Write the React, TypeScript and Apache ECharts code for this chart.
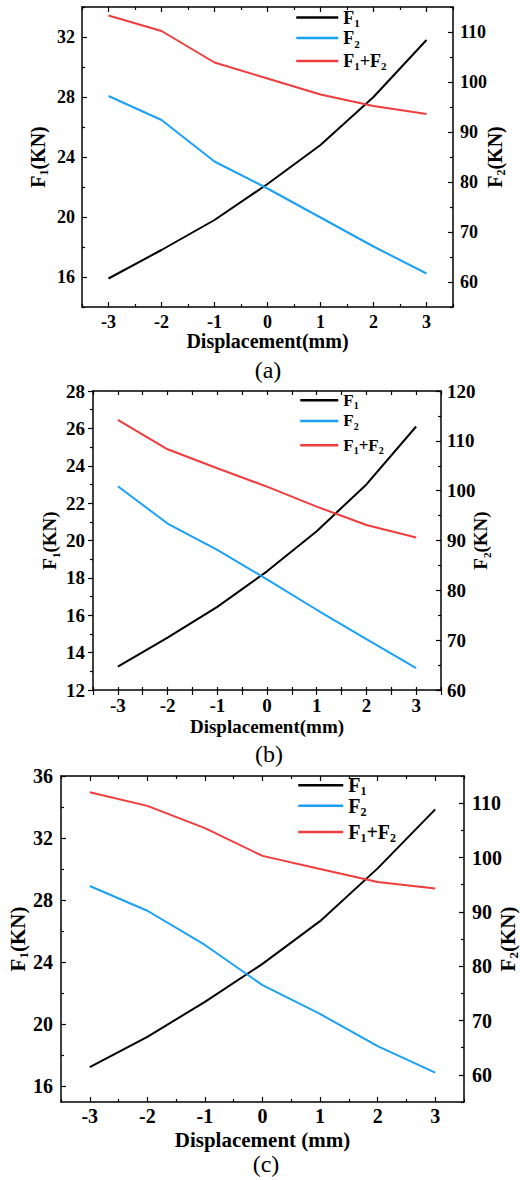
import React, { useEffect, useRef } from 'react';
import * as echarts from 'echarts';

// ---------- data ----------
const displacement = [-3, -2, -1, 0, 1, 2, 3];

const f1A = [15.9, 17.8, 19.8, 22.2, 24.8, 28.0, 31.8];
const f2A = [97.2, 92.4, 84.1, 78.7, 72.9, 67.1, 61.7];
const sumA = [113.3, 110.2, 103.9, 100.7, 97.5, 95.2, 93.6];

const f1B = [13.25, 14.8, 16.45, 18.35, 20.5, 23.0, 26.1];
const f2B = [100.9, 93.4, 88.1, 82.2, 76.1, 70.2, 64.4];
const sumB = [114.2, 108.3, 104.5, 100.8, 96.8, 93.1, 90.6];

const f1C = [17.25, 19.2, 21.45, 23.9, 26.65, 30.05, 33.85];
const f2C = [94.75, 90.2, 83.9, 76.5, 71.2, 65.3, 60.4];
const sumC = [112.0, 109.5, 105.4, 100.3, 97.9, 95.5, 94.3];

const xTickLabels = [-3, -2, -1, 0, 1, 2, 3];
const xMinorTicks = [-3.5, -2.5, -1.5, -0.5, 0.5, 1.5, 2.5, 3.5];
const xAllTicks = [-3.5, -3, -2.5, -2, -1.5, -1, -0.5, 0, 0.5, 1, 1.5, 2, 2.5, 3, 3.5];

const leftLabelsA = [16, 20, 24, 28, 32];
const leftMinorA = [14, 18, 22, 26, 30, 34];
const rightLabelsA = [60, 70, 80, 90, 100, 110];
const rightMinorA = [55, 65, 75, 85, 95, 105, 115];

const leftLabelsB = [12, 14, 16, 18, 20, 22, 24, 26, 28];
const leftMinorB = [13, 15, 17, 19, 21, 23, 25, 27];
const rightLabelsB = [60, 70, 80, 90, 100, 110, 120];
const rightMinorB = [65, 75, 85, 95, 105, 115];

const leftLabelsC = [16, 20, 24, 28, 32, 36];
const leftMinorC = [18, 22, 26, 30, 34];
const rightLabelsC = [60, 70, 80, 90, 100, 110];
const rightMinorC = [55, 65, 75, 85, 95, 105, 115];

const seriesNames = ['F1', 'F2', 'F1+F2'];
const richLegendText: Record<string, string> = {
  F1: '{b|F}{s|1}',
  F2: '{b|F}{s|2}',
  'F1+F2': '{b|F}{s|1}{b|+F}{s|2}',
};

// ---------- styles ----------
const SERIF = "'Times New Roman', 'Liberation Serif', serif";
const BLACK = '#000000';
const BLUE = '#1aa1f5';
const RED = '#f03c3c';
const seriesColors = [BLACK, BLUE, RED];

type TickSet = { values: number[]; len: number; inside: boolean };
type YCfg = { min: number; max: number; labels: number[]; ticks: TickSet[]; nameGap: number; margin: number; name: string };
type Panel = {
  grid: { left: number; top: number; width: number; height: number };
  fs: number;
  nameFs: number;
  legFs: number;
  xName: string;
  xNameGap: number;
  xMargin: number;
  bottomTicks: TickSet[];
  topTicks: TickSet[];
  yL: YCfg;
  yR: YCfg;
  data: number[][];
  legend: { left: number; tops: number[]; w: number };
  caption: { text: string; x: number; y: number };
};

const panels: Panel[] = [
  {
    grid: { left: 82, top: 7, width: 371, height: 300 },
    fs: 18, nameFs: 20, legFs: 18,
    xName: 'Displacement(mm)', xNameGap: 24, xMargin: 6,
    bottomTicks: [
      { values: xTickLabels, len: 5, inside: true },
      { values: xMinorTicks, len: 3, inside: true },
    ],
    topTicks: [
      { values: xTickLabels, len: 5, inside: true },
      { values: xMinorTicks, len: 3, inside: true },
    ],
    yL: { min: 14, max: 34, labels: leftLabelsA, name: '{b|F}{s|1}{b|(KN)}', nameGap: 32, margin: 7,
      ticks: [ { values: leftLabelsA, len: 5, inside: true }, { values: leftMinorA, len: 3, inside: true } ] },
    yR: { min: 55, max: 115, labels: rightLabelsA, name: '{b|F}{s|2}{b|(KN)}', nameGap: 30, margin: 7,
      ticks: [ { values: rightLabelsA, len: 5, inside: true }, { values: rightMinorA, len: 3, inside: true } ] },
    data: [f1A, f2A, sumA],
    legend: { left: 295, tops: [8, 28.5, 51.3], w: 42 },
    caption: { text: '(a)', x: 268, y: 370 },
  },
  {
    grid: { left: 93, top: 391, width: 348, height: 299 },
    fs: 19, nameFs: 19, legFs: 17,
    xName: 'Displacement(mm)', xNameGap: 27, xMargin: 6,
    bottomTicks: [
      { values: xAllTicks, len: 3, inside: true },
      { values: xAllTicks, len: 5, inside: false },
    ],
    topTicks: [ { values: xAllTicks, len: 4, inside: true } ],
    yL: { min: 12, max: 28, labels: leftLabelsB, name: '{b|F}{s|1}{b|(KN)}', nameGap: 32, margin: 8,
      ticks: [ { values: leftLabelsB, len: 5, inside: false }, { values: leftMinorB, len: 3, inside: false } ] },
    yR: { min: 60, max: 120, labels: rightLabelsB, name: '{b|F}{s|2}{b|(KN)}', nameGap: 28, margin: 6,
      ticks: [ { values: rightLabelsB, len: 5, inside: true }, { values: rightMinorB, len: 3, inside: true } ] },
    data: [f1B, f2B, sumB],
    legend: { left: 299, tops: [390.7, 411.3, 435.7], w: 38 },
    caption: { text: '(b)', x: 269, y: 754 },
  },
  {
    grid: { left: 61, top: 776, width: 403, height: 326 },
    fs: 20, nameFs: 21, legFs: 20,
    xName: 'Displacement (mm)', xNameGap: 27, xMargin: 4,
    bottomTicks: [
      { values: xTickLabels, len: 5, inside: true },
      { values: xMinorTicks, len: 3, inside: true },
    ],
    topTicks: [
      { values: xTickLabels, len: 5, inside: true },
      { values: xMinorTicks, len: 3, inside: true },
    ],
    yL: { min: 15, max: 36, labels: leftLabelsC, name: '{b|F}{s|1}{b|(KN)}', nameGap: 31, margin: 8,
      ticks: [ { values: leftLabelsC, len: 5, inside: true }, { values: leftMinorC, len: 3, inside: true } ] },
    yR: { min: 55, max: 115, labels: rightLabelsC, name: '{b|F}{s|2}{b|(KN)}', nameGap: 31, margin: 8,
      ticks: [ { values: rightLabelsC, len: 5, inside: true }, { values: rightMinorC, len: 3, inside: true } ] },
    data: [f1C, f2C, sumC],
    legend: { left: 297, tops: [775.3, 795.7, 822], w: 45 },
    caption: { text: '(c)', x: 266, y: 1164 },
  },
];

function rich(fs: number) {
  const lh = fs + 4;
  return {
    b: { fontFamily: SERIF, fontWeight: 'bold', fontSize: fs, color: BLACK, lineHeight: lh },
    s: { fontFamily: SERIF, fontWeight: 'bold', fontSize: Math.round(fs * 0.6), color: BLACK, lineHeight: Math.round(fs * 0.6), verticalAlign: 'bottom' },
  };
}

function buildOption() {
  const grids: any[] = [];
  const xAxes: any[] = [];
  const yAxes: any[] = [];
  const series: any[] = [];
  const legends: any[] = [];
  const graphics: any[] = [];
  const axisLineStyle = { color: BLACK, width: 1.5 };

  panels.forEach((p, gi) => {
    grids.push({ ...p.grid, containLabel: false, outerBoundsMode: 'none' });
    const labelStyle = { fontFamily: SERIF, fontWeight: 'bold', fontSize: p.fs, color: BLACK, lineHeight: p.fs };

    let xMain = -1;
    const addX = (position: string, ticks: TickSet[], main: boolean) => {
      ticks.forEach((t, k) => {
        const isMain = main && k === 0;
        const idx = xAxes.length;
        if (isMain) xMain = idx;
        xAxes.push({
          type: 'value', gridIndex: gi, position, min: -3.5, max: 3.5,
          axisLine: { show: k === 0, onZero: false, lineStyle: axisLineStyle },
          axisTick: { show: true, inside: t.inside, length: t.len, customValues: t.values, lineStyle: { color: BLACK, width: 1.2 } },
          axisLabel: isMain ? { show: true, customValues: xTickLabels, margin: p.xMargin, ...labelStyle } : { show: false },
          splitLine: { show: false },
          name: isMain ? p.xName : '',
          nameLocation: 'middle', nameGap: p.xNameGap, nameMoveOverlap: false,
          nameTextStyle: { fontFamily: SERIF, fontWeight: 'bold', fontSize: p.nameFs, color: BLACK, lineHeight: p.nameFs },
        });
      });
    };
    addX('bottom', p.bottomTicks, true);
    addX('top', p.topTicks, false);

    const addY = (position: string, cfg: YCfg) => {
      let mainIdx = -1;
      cfg.ticks.forEach((t, k) => {
        const isMain = k === 0;
        const idx = yAxes.length;
        if (isMain) mainIdx = idx;
        yAxes.push({
          type: 'value', gridIndex: gi, position, min: cfg.min, max: cfg.max,
          axisLine: { show: isMain, onZero: false, lineStyle: axisLineStyle },
          axisTick: { show: true, inside: t.inside, length: t.len, customValues: t.values, lineStyle: { color: BLACK, width: 1.2 } },
          axisLabel: isMain ? { show: true, customValues: cfg.labels, margin: cfg.margin, ...labelStyle } : { show: false },
          splitLine: { show: false },
          name: isMain ? cfg.name : '',
          nameLocation: 'middle', nameRotate: 90, nameGap: cfg.nameGap, nameMoveOverlap: false,
          nameTextStyle: { rich: rich(p.nameFs) },
        });
      });
      return mainIdx;
    };
    const yL = addY('left', p.yL);
    const yR = addY('right', p.yR);

    seriesNames.forEach((name, si) => {
      series.push({
        type: 'line', name, xAxisIndex: xMain, yAxisIndex: si === 0 ? yL : yR,
        data: displacement.map((d, i) => [d, p.data[si][i]]),
        symbol: 'none', smooth: false,
        lineStyle: { color: seriesColors[si], width: 2 },
        itemStyle: { color: seriesColors[si] },
      });
      legends.push({
        data: [name], left: p.legend.left, top: p.legend.tops[si], orient: 'vertical', padding: 0,
        itemWidth: p.legend.w, itemHeight: 24, selectedMode: false,
        itemStyle: { opacity: 0 },
        lineStyle: { width: 2.5, opacity: 1 },
        formatter: (n: string) => richLegendText[n],
        textStyle: { rich: rich(p.legFs) },
      });
    });

    graphics.push({
      type: 'text', x: p.caption.x, y: p.caption.y,
      style: { text: p.caption.text, font: `24px 'Times New Roman', 'Liberation Serif', serif`, fill: BLACK, align: 'center', verticalAlign: 'middle' },
    });
  });

  return {
    animation: false,
    backgroundColor: '#ffffff',
    grid: grids, xAxis: xAxes, yAxis: yAxes, series, legend: legends, graphic: graphics,
  };
}

export default function App() {
  const ref = useRef<HTMLDivElement>(null);
  useEffect(() => {
    if (!ref.current) return;
    const chart = echarts.init(ref.current, undefined, { renderer: 'svg' });
    chart.setOption(buildOption() as any);
    return () => chart.dispose();
  }, []);
  return <div ref={ref} style={{ position: 'absolute', left: 0, top: 0, width: 520, height: 1180, background: '#fff' }} />;
}
